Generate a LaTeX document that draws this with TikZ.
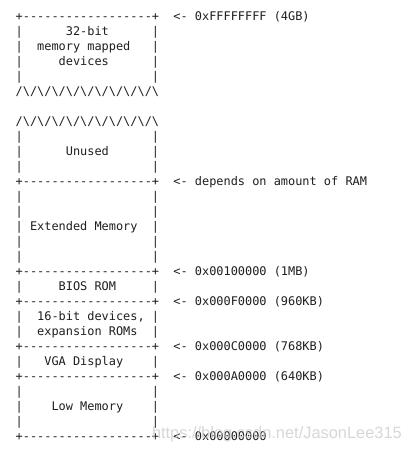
\documentclass[tikz,border=0pt]{standalone}
\usepackage{fontspec}
\setmonofont{DejaVu Sans Mono}
\newfontfamily\wmfont{Liberation Sans}
\newcommand\bsl{\textbackslash}
\newcommand\zig{/\bsl/\bsl/\bsl/\bsl/\bsl/\bsl/\bsl/\bsl/\bsl/\bsl}
\tikzset{
  row/.style={anchor=base west, inner sep=0pt, outer sep=0pt,
    font=\ttfamily\fontsize{11.91}{15}\selectfont, text=black!88},
  wmark/.style={anchor=base west, inner sep=0pt, outer sep=0pt,
    font=\wmfont\fontsize{16.4}{18}\selectfont, text=black!22, opacity=0.7}
}
\begin{document}
\begin{tikzpicture}[x=1pt,y=-1pt]
\useasboundingbox[fill=white] (0,0) rectangle (404,451);
\def\xl{15.7}
\node[row] (r1)  at (\xl,20)  {+------------------+~~<-~0xFFFFFFFF~(4GB)};
\node[row] (r2)  at (\xl,35)  {|~~~~~~32-bit~~~~~~|};
\node[row] (r3)  at (\xl,50)  {|~~memory~mapped~~~|};
\node[row] (r4)  at (\xl,65)  {|~~~~~devices~~~~~~|};
\node[row] (r5)  at (\xl,80)  {|~~~~~~~~~~~~~~~~~~|};
\node[row] (r6)  at (\xl,95)  {\zig};
\node[row] (r8)  at (\xl,125) {\zig};
\node[row] (r9)  at (\xl,140) {|~~~~~~~~~~~~~~~~~~|};
\node[row] (r10) at (\xl,155) {|~~~~~~Unused~~~~~~|};
\node[row] (r11) at (\xl,170) {|~~~~~~~~~~~~~~~~~~|};
\node[row] (r12) at (\xl,185) {+------------------+~~<-~depends~on~amount~of~RAM};
\node[row] (r13) at (\xl,200) {|~~~~~~~~~~~~~~~~~~|};
\node[row] (r14) at (\xl,215) {|~~~~~~~~~~~~~~~~~~|};
\node[row] (r15) at (\xl,230) {|~Extended~Memory~~|};
\node[row] (r16) at (\xl,245) {|~~~~~~~~~~~~~~~~~~|};
\node[row] (r17) at (\xl,260) {|~~~~~~~~~~~~~~~~~~|};
\node[row] (r18) at (\xl,275) {+------------------+~~<-~0x00100000~(1MB)};
\node[row] (r19) at (\xl,290) {|~~~~~BIOS~ROM~~~~~|};
\node[row] (r20) at (\xl,305) {+------------------+~~<-~0x000F0000~(960KB)};
\node[row] (r21) at (\xl,320) {|~~16-bit~devices,~|};
\node[row] (r22) at (\xl,335) {|~~expansion~ROMs~~|};
\node[row] (r23) at (\xl,350) {+------------------+~~<-~0x000C0000~(768KB)};
\node[row] (r24) at (\xl,365) {|~~~VGA~Display~~~~|};
\node[row] (r25) at (\xl,380) {+------------------+~~<-~0x000A0000~(640KB)};
\node[row] (r26) at (\xl,395) {|~~~~~~~~~~~~~~~~~~|};
\node[row] (r27) at (\xl,410) {|~~~~Low~Memory~~~~|};
\node[row] (r28) at (\xl,425) {|~~~~~~~~~~~~~~~~~~|};
\node[row] (r29) at (\xl,440) {+------------------+~~<-~0x00000000};
\node[wmark] (wm) at (152,438.5) {https://blog.csdn.net/JasonLee315};
\end{tikzpicture}
\end{document}
